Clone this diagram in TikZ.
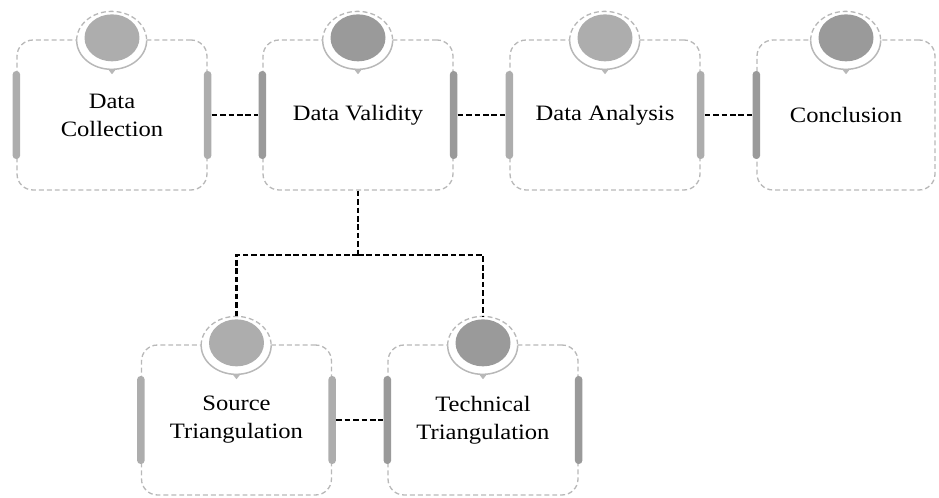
\documentclass[tikz,border=0pt]{standalone}
\usepackage{fontspec}
\setmainfont{Liberation Serif}[FakeStretch=1.12]
\usepackage{tikz}
\usepackage{xcolor}
\usetikzlibrary{positioning, shapes.geometric}

\definecolor{shadelight}{HTML}{ADADAD}
\definecolor{shadedark}{HTML}{9A9A9A}
\definecolor{frameg}{HTML}{B8B8B8}

\begin{document}
\begin{tikzpicture}[x=0.02cm, y=0.02cm,
    stage/.style={draw=frameg, line width=0.75pt, dash pattern=on 2.8pt off 1.7pt,
        rounded corners=0.32cm, minimum width=3.8cm, minimum height=3cm,
        align=center, font=\fontsize{12.5}{16}\selectfont},
    bar/.style={rectangle, rounded corners=0.07cm, inner sep=0pt,
        minimum width=0.15cm, minimum height=1.76cm},
    ring/.style={ellipse, fill=white, inner sep=0pt, minimum width=1.4cm, minimum height=1.16cm},
    dot/.style={ellipse, inner sep=0pt, minimum width=1.1cm, minimum height=0.94cm},
    link/.style={black, line width=1.3pt, dash pattern=on 3.2pt off 1.6pt}]
    \useasboundingbox (0,0) rectangle (939,497);

    % stages
    \node[stage] (dc) at (112,382) {Data\\Collection};
    \node[stage] (dv) at (358,382) {Data Validity};
    \node[stage] (da) at (605,382) {Data Analysis};
    \node[stage, minimum width=3.56cm] (co) at (846,382) {Conclusion};
    \node[stage] (st) at (236.5,77) {Source\\Triangulation};
    \node[stage] (tt) at (483,77) {Technical\\Triangulation};

    % rings on top of each stage
    \foreach \n/\shade in {dc/shadelight, dv/shadedark, da/shadelight, co/shadedark, st/shadelight, tt/shadedark} {
        \node[ring] (\n-ring) at ([yshift=-0.02cm]\n.north) {};
        \draw[frameg, line width=0.75pt, dash pattern=on 2.8pt off 1.7pt]
            (\n-ring.west) arc[start angle=180, end angle=0, x radius=0.7cm, y radius=0.58cm];
        \draw[frameg, line width=0.85pt]
            (\n-ring.west) arc[start angle=180, end angle=360, x radius=0.7cm, y radius=0.58cm];
        \fill[frameg] (\n-ring.south) ++(-4,0.5) -- ++(8,0) -- ++(-4,-5) -- cycle;
        \node[dot, fill=\shade] (\n-dot) at ([yshift=0.05cm]\n-ring.center) {};
    }

    % side bars
    \foreach \n/\shade in {dc/shadelight, dv/shadedark, da/shadelight, co/shadedark, st/shadelight, tt/shadedark}
        \node[bar, fill=\shade] (\n-l) at (\n.west) {};
    \foreach \n/\shade in {dc/shadelight, dv/shadedark, da/shadelight, st/shadelight, tt/shadedark}
        \node[bar, fill=\shade] (\n-r) at (\n.east) {};

    % connectors
    \draw[link] (dc-r) -- (dv-l);
    \draw[link] (dv-r) -- (da-l);
    \draw[link] (da-r) -- (co-l);
    \draw[link] (st-r) -- (tt-l);
    \coordinate (fork) at (358,242);
    \draw[link] (dv.south) -- (fork);
    \draw[link] (fork) -| (st-ring.north);
    \draw[link] (fork) -| (tt-ring.north);
\end{tikzpicture}
\end{document}
